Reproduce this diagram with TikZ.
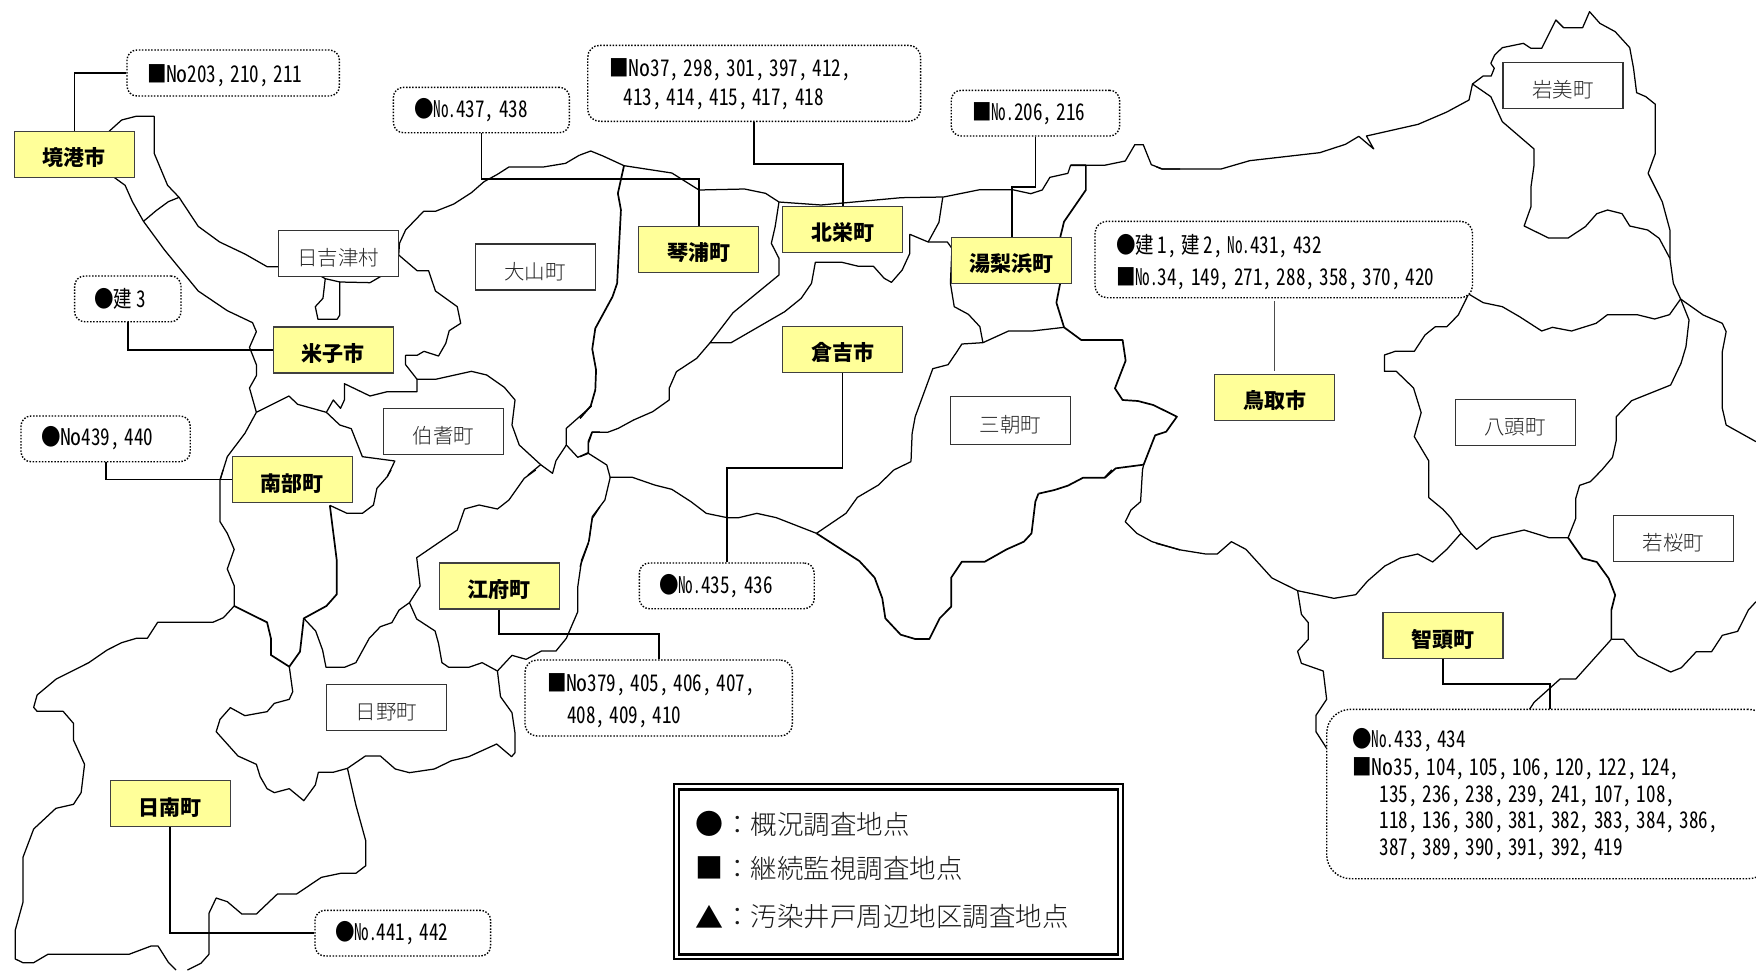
\documentclass[tikz,border=0pt]{standalone}
\usepackage{fontspec}
\setmainfont{Noto Sans CJK JP}
\newfontfamily\lightf{Noto Sans CJK JP Light}
\newfontfamily\numf[RawFeature=+hwid,FakeStretch=0.83]{Noto Sans CJK JP}
\newfontfamily\symf[FakeStretch=0.85]{Noto Sans CJK JP}
\newfontfamily\kenf[FakeStretch=0.8]{Noto Sans CJK JP}
\newfontfamily\nnf[RawFeature=+hwid,FakeStretch=0.95]{Noto Sans CJK JP}
\newfontfamily\ndf[RawFeature=+hwid,FakeStretch=0.66]{Noto Sans CJK JP}
\newcommand{\ci}{{\symf ●}\kern-0.5pt\relax}
\newcommand{\sq}{{\symf ■}\kern-0.5pt\relax}
\newcommand{\ken}{{\kenf 建}\hspace{4pt}}
\newcommand{\Nn}{{\nnf No}}
\newcommand{\Nd}{{\ndf No.}}
\newcommand{\lowstrut}[1]{\vrule width 0pt height 0pt depth #1pt\relax}
\newcommand{\topstrut}[1]{\vrule width 0pt height #1pt depth 0pt\relax}
\newcommand{\calloutbase}{32}
\newcommand{\callout}[8]{% name x1 y1 x2 y2 pad radius text
  \pgfmathsetmacro{\cx}{(#2+#4)/2}\pgfmathsetmacro{\cy}{(#3+#5)/2}
  \pgfmathsetmacro{\cw}{#4-#2-2*#6}\pgfmathsetmacro{\ch}{#5-#3}
  \node[callbox,rounded corners=#7pt,text width=\cw pt,inner xsep=#6pt,minimum height=\ch pt] (#1) at (\cx,\cy) {\spaceskip=4.7pt\relax\topstrut{20}#8\lowstrut{3}};}
\tikzset{
  mapline/.style={line width=1.25pt,black,line join=round},
  mapthick/.style={line width=1.7pt,black,line join=round},
  leader/.style={line width=1.8pt,black},
  town/.style={draw=black!75,fill=yellowbox,line width=1.1pt,minimum width=120pt,minimum height=46pt,inner sep=0pt,text height=23pt,text depth=0pt,font=\fontsize{21}{21}\selectfont\bfseries,text=black},
  ward/.style={draw=black!80,fill=white,line width=1.1pt,minimum width=120pt,minimum height=46pt,inner sep=0pt,text height=24pt,text depth=0pt,font=\lightf\fontsize{20.5}{21}\selectfont,text=black!85},
  callbox/.style={draw=black,fill=white,line width=1.4pt,dash pattern=on 1.5pt off 1.6pt,align=left,inner ysep=0pt,text=black,
    font=\numf\fontsize{23}{\calloutbase}\selectfont},
  c1/.style={shift={(0,0)},x=0.38265pt,y=-0.33333pt},
  c2/.style={shift={(580,0)},x=0.38265pt,y=-0.33333pt},
  c3/.style={shift={(1156,0)},x=0.38265pt,y=-0.33333pt},
  c4/.style={shift={(0,470)},x=0.38265pt,y=-0.33333pt},
  c5/.style={shift={(580,470)},x=0.38265pt,y=-0.33333pt},
  c6/.style={shift={(1156,470)},x=0.38265pt,y=-0.33333pt},
  legtext/.style={font=\lightf\fontsize{26.5}{27}\selectfont,text=black!90,anchor=west,inner sep=0pt},
  legsym/.style={font=\fontsize{28}{28}\selectfont,text=black,inner sep=0pt},
}
\definecolor{yellowbox}{RGB}{255,255,153}
\begin{document}
\begin{tikzpicture}[x=1pt,y=-1pt]
\path[use as bounding box] (0,0) rectangle (1756,970);
\clip (0,0) rectangle (1756,970);
\fill[white] (0,0) rectangle (1756,970);
% map, crop 1
\begin{scope}[c1]
\draw[mapline] (285,394)--(318,360)--(355,349)--(403,349)--(403,460)--(438,556)--(468,592)--(518,679)--(574,726)--(640,762)--(698,800)--(728,800);
\draw[mapline] (468,592)--(440,605)--(408,632)--(375,664);
\draw[mapline] (297,531)--(327,556)--(346,605)--(375,664)--(430,750)--(518,873)--(594,932)--(660,968)--(670,995)--(652,1042)--(670,1094)--(670,1127)--(652,1164)--(670,1237);
\draw[mapline] (838,828)--(850,836)--(844,895)--(824,920)--(831,958)--(881,958)--(888,945)--(888,846)--(967,848)--(997,828);
\draw[mapline] (850,836)--(888,846);
\draw[mapline] (1042,765)--(1090,812)--(1120,812)--(1138,873)--(1195,920)--(1204,970)--(1174,992)--(1165,1030)--(1146,1068)--(1108,1054)--(1090,1066)--(1060,1066)--(1060,1094)--(1090,1138)--(1090,1175)--(1012,1175)--(967,1188)--(900,1151)--(900,1200)--(890,1225)--(871,1200)--(853,1237);
\draw[mapline] (670,1237)--(755,1188)--(778,1213)--(853,1237)--(888,1275)--(918,1286)--(947,1370)--(1032,1383)--(1012,1430);
\draw[mapline] (1090,1138)--(1138,1138)--(1232,1114)--(1272,1125)--(1318,1162)--(1346,1200)--(1338,1275)--(1357,1335)--(1413,1394)--(1444,1420)--(1453,1382)--(1480,1335)--(1480,1285)--(1546,1218);
\draw[mapline] (1413,1394)--(1380,1425);
\draw[mapline] (1480,1335)--(1510,1372)--(1537,1358);
\draw[mapline] (1568,1296)--(1547,1296)--(1537,1325)--(1537,1358);
\draw[mapline] (1042,765)--(1044,730)--(1060,690)--(1107,634)--(1138,634)--(1186,612)--(1232,578)--(1265,545)--(1300,523)--(1330,501)--(1420,501)--(1478,490)--(1515,465);
\draw[mapline] (670,1237)--(640,1300)--(594,1370)--(575,1440);
\end{scope}
% map, crop 2
\begin{scope}[c2]
\draw[mapline] (0,465)--(28,453)--(60,468)--(115,497)--(240,519)--(311,570)--(430,567)--(485,580)--(520,606)--(630,615)--(840,593)--(950,591)--(1045,569)--(1130,569)--(1178,581)--(1208,570)--(1228,532)--(1275,520)--(1282,496)--(1370,496)--(1425,483)--(1450,434)--(1472,434)--(1493,494)--(1522,507)--(1568,507);
\draw[mapthick] (115,497)--(99,580)--(107,630)--(97,850)--(85,890)--(40,985)--(32,1047)--(42,1110)--(40,1170)--(28,1218)--(0,1255);
\draw[mapthick] (1282,496)--(1322,496)--(1322,570)--(1265,665)--(1255,712)--(1255,849)--(1245,908)--(1265,982)--(1310,1020)--(1418,1020)--(1426,1082)--(1398,1165)--(1418,1200)--(1458,1203)--(1498,1215)--(1560,1250)--(1532,1295)--(1503,1306)--(1473,1394)--(1400,1405)--(1372,1433)--(1315,1433)--(1275,1457)--(1240,1470)--(1198,1481);
\draw[mapline] (865,1385)--(820,1410);
\draw[mapline] (865,1385)--(868,1300)--(876,1250)--(922,1106)--(962,1094)--(985,1055)--(998,1032)--(1053,1028)--(1120,993)--(1182,993)--(1265,982);
\draw[mapline] (1053,1028)--(1045,980)--(1015,943)--(978,920)--(968,850)--(972,745)--(960,726)--(910,726)--(862,703)--(862,760)--(842,810)--(814,847)--(795,835)--(767,799)--(728,799)--(685,787)--(615,787)--(605,850)--(578,895)--(535,935)--(395,1028)--(340,1028);
\draw[mapline] (910,726)--(938,667)--(948,592);
\draw[mapline] (520,606)--(510,680)--(500,730)--(520,775)--(520,825)--(400,938)--(340,1028)--(305,1075)--(252,1115)--(233,1165)--(233,1200)--(190,1235)--(140,1260)--(100,1285)--(72,1297)--(32,1297)--(22,1330)--(22,1360)--(70,1395)--(79,1433);
\draw[mapline] (22,1360)--(0,1370);
\draw[mapline] (1473,1394)--(1470,1410);
\end{scope}
% map, crop 3
\begin{scope}[c3]
\draw[mapline] (0,500)--(15,507)--(170,507)--(245,482)--(428,458)--(495,433)--(530,409)--(569,447)--(550,408)--(685,373)--(760,336)--(818,300)--(827,252)--(855,228)--(876,228)--(884,205)--(875,190)--(885,165)--(905,143)--(960,130)--(980,145)--(1008,145)--(1045,60)--(1065,83)--(1115,83)--(1133,35)--(1160,70)--(1200,95)--(1238,143)--(1248,205)--(1256,278)--(1280,290)--(1305,313)--(1305,460)--(1286,520)--(1323,605)--(1343,690)--(1343,775)--(1352,850)--(1371,897)--(1393,960)--(1385,1040)--(1372,1090)--(1345,1155)--(1243,1202)--(1203,1250)--(1203,1320)--(1193,1372)--(1165,1410);
\draw[mapline] (827,252)--(875,290)--(905,365)--(988,447)--(988,495)--(980,560)--(980,620)--(962,678)--(1026,714)--(1077,714)--(1122,680)--(1152,641)--(1180,630)--(1218,641)--(1238,678)--(1285,690)--(1315,715)--(1343,775);
\draw[mapline] (817,882)--(855,908)--(905,920)--(950,950)--(1008,993)--(1036,982)--(1086,993)--(1150,970)--(1180,944)--(1257,944)--(1303,957)--(1342,944)--(1371,897);
\draw[mapline] (817,882)--(790,945)--(760,980)--(730,980)--(703,1005)--(675,1054)--(625,1054)--(597,1065)--(597,1114)--(628,1114)--(673,1164)--(693,1238)--(675,1310)--(713,1383)--(713,1410);
\draw[mapline] (1371,897)--(1430,945)--(1480,970)--(1490,995)--(1480,1055)--(1480,1225)--(1490,1275)--(1568,1325);
\end{scope}
% map, crop 4
\begin{scope}[c4]
\draw[mapline] (1022,0)--(1012,20)--(985,55)--(976,105)--(947,130)--(907,130)--(862,106);
\draw[mapthick] (862,106)--(880,270)--(880,373)--(853,408)--(794,445)--(784,545)--(756,590);
\draw[mapline] (794,445)--(825,483)--(843,540)--(852,592)--(900,592)--(930,578)--(965,505)--(994,470)--(1024,458)--(1043,420)--(1070,398)--(1098,348)--(1089,263)--(1195,180)--(1214,117)--(1252,105)--(1300,117)--(1330,90)--(1370,25)--(1400,0);
\draw[mapline] (1568,110)--(1548,145)--(1540,210)--(1520,270)--(1510,350)--(1510,425)--(1480,505)--(1453,543)--(1415,543)--(1375,568)--(1338,556)--(1300,603)--(1308,680)--(1338,728)--(1346,790)--(1346,848)--(1337,860)--(1298,822)--(1225,860)--(1180,872)--(1135,897)--(1070,908)--(1033,897)--(994,858)--(955,858)--(908,895)--(870,907)--(832,907)--(824,945)--(794,992)--(756,956)--(717,968)--(698,956)--(680,920)--(670,883)--(622,858)--(565,785)--(575,748)--(602,713)--(640,737)--(698,725)--(717,700)--(756,688)--(765,665)--(756,590);
\draw[mapline] (1070,398)--(1089,447)--(1137,483)--(1146,520)--(1155,578)--(1173,592)--(1225,592)--(1260,578)--(1300,603);
\draw[mapline] (583,0)--(575,30)--(575,155)--(594,190)--(612,238)--(594,297)--(612,347)--(612,408);
\draw[mapthick] (612,408)--(698,457)--(708,505)--(708,555)--(756,590);
\draw[mapline] (612,408)--(584,443)--(556,457)--(412,457)--(385,505)--(356,505)--(318,518)--(280,540)--(232,578)--(147,627)--(97,675)--(88,712)--(97,724)--(165,724)--(192,760)--(192,810)--(221,883)--(212,968)--(192,1003)--(146,1015)--(88,1077)--(60,1162)--(60,1297)--(40,1380)--(40,1467)--(60,1478)--(88,1478)--(125,1453)--(337,1453)--(395,1428)--(413,1428)--(440,1477)--(460,1500);
\draw[mapline] (490,1500)--(525,1480)--(546,1453)--(546,1330)--(565,1284)--(594,1295)--(632,1332)--(670,1332)--(725,1272)--(775,1272)--(840,1222)--(890,1210)--(930,1210)--(956,1187)--(956,1113)--(930,1005)--(908,895);
\end{scope}
% map, crop 5
\begin{scope}[c5]
\draw[mapthick] (1390,0)--(1372,22);
\draw[mapthick] (1198,71)--(1190,95)--(1180,190)--(1160,215)--(1115,238)--(1058,275)--(998,275)--(970,323)--(970,410)--(940,445)--(913,507)--(876,507)--(838,494)--(798,445)--(790,385)--(770,323)--(730,273)--(618,190);
\draw[mapline] (618,190)--(513,143)--(462,130)--(415,143)--(385,143)--(330,130)--(290,95)--(240,58)--(195,45)--(137,22)--(79,22)--(65,90)--(32,140)--(22,220)--(0,290);
\draw[mapline] (618,190)--(695,130)--(725,82)--(780,45)--(820,0);
\draw[mapline] (1470,0)--(1465,95)--(1440,120)--(1425,155)--(1455,190)--(1495,215)--(1568,240);
\end{scope}
% map, crop 6
\begin{scope}[c6]
\draw[mapline] (1568,395)--(1548,420)--(1520,484)--(1480,496)--(1452,545)--(1412,545)--(1373,593)--(1345,606)--(1260,558)--(1222,508)--(1190,508);
\draw[mapthick] (1190,508)--(1190,420)--(1200,375)--(1183,325)--(1152,276)--(1115,265)--(1077,203);
\draw[mapline] (1077,203)--(1097,145)--(1097,85)--(1107,46)--(1135,35)--(1165,0);
\draw[mapline] (1077,203)--(1027,203)--(962,180)--(877,203)--(838,238)--(797,190)--(770,143)--(750,118)--(713,83)--(713,0);
\draw[mapline] (797,190)--(760,238)--(723,276)--(684,252)--(638,264)--(598,288)--(553,333)--(522,374)--(465,385)--(370,362)--(303,324)--(235,238)--(197,215)--(160,252)--(130,252)--(65,240)--(0,220);
\draw[mapline] (370,362)--(380,433)--(398,458)--(398,508)--(370,544)--(380,580)--(437,603)--(446,688)--(418,736)--(418,785)--(446,835);
\draw[mapline] (1190,508)--(1097,627)--(1056,627)--(988,697)--(975,720);
\end{scope}
% callouts
\callout{ca}{127}{50}{339.4}{96}{20}{10}{\topstrut{24}\sq\Nn 203, 210, 211}
\callout{cb}{393.4}{87.3}{569.4}{132.7}{21}{10}{\ci\Nd 437, 438}
\callout{cc}{74.6}{276}{181}{321.7}{20}{10}{\ci\ken 3}
\callout{cd}{21}{416}{190.2}{461.7}{20}{10}{\ci\Nn 439, 440\lowstrut{6}}
\renewcommand{\calloutbase}{29}
\callout{ce}{587.7}{45.3}{920.6}{121.3}{22}{12}{\sq\Nn 37, 298, 301, 397, 412,\\\hspace*{14pt}413, 414, 415, 417, 418\lowstrut{4}}
\renewcommand{\calloutbase}{32}
\callout{cf}{951.2}{90.3}{1119.6}{136}{21}{10}{\sq\Nd 206, 216}
\callout{cg}{1095}{221.3}{1472.5}{297.7}{21}{12}{\topstrut{25}\ci\ken 1, \ken 2, \Nd 431, 432\\\sq\Nd 34, 149, 271, 288, 358, 370, 420}
\callout{ch}{639.3}{563}{814.2}{608.7}{20}{10}{\ci\Nd 435, 436}
\callout{ci}{525}{660}{792.4}{736}{22}{12}{\topstrut{24}\sq\Nn 379, 405, 406, 407,\\\hspace*{20pt}408, 409, 410}
\callout{cj}{315}{910.3}{490.6}{956}{20}{10}{\ci\Nd 441, 442}
\renewcommand{\calloutbase}{26.6}
\callout{ck}{1326.7}{709.3}{1772}{878.7}{26}{24}{\ci\Nd 433, 434\\[1.7pt]\sq\Nn 35, 104, 105, 106, 120, 122, 124,\\\hspace*{27pt}135, 236, 238, 239, 241, 107, 108,\\\hspace*{27pt}118, 136, 380, 381, 382, 383, 384, 386,\\\hspace*{27pt}387, 389, 390, 391, 392, 419\lowstrut{5.6}}
% yellow towns
\node[town] (sakai) at (74.4,154.2) {境港市};
\node[town] (yonago) at (333.3,350) {米子市};
\node[town] (nanbu) at (292.1,479.5) {南部町};
\node[town] (kotoura) at (698.8,249.2) {琴浦町};
\node[town] (hokuei) at (842.7,229.2) {北栄町};
\node[town] (yurihama) at (1011.9,260.2) {湯梨浜町};
\node[town] (kurayoshi) at (842.5,349.3) {倉吉市};
\node[town] (tottori) at (1274.8,397.2) {鳥取市};
\node[town] (kofu) at (499.2,586) {江府町};
\node[town] (chizu) at (1443,635.5) {智頭町};
\node[town] (nichinan) at (170.1,803.7) {日南町};
% white towns
\node[ward] (hiezu) at (338.3,253.2) {日吉津村};
\node[ward] (daisen) at (535.1,267) {大山町};
\node[ward] (hoki) at (443.5,431.7) {伯耆町};
\node[ward,minimum height=48pt] (misasa) at (1010.7,420.7) {三朝町};
\node[ward] (iwami) at (1563,85.2) {岩美町};
\node[ward] (yazu) at (1515.2,422.2) {八頭町};
\node[ward] (wakasa) at (1673.7,538.5) {若桜町};
\node[ward] (hino) at (386.5,707.7) {日野町};
% leaders
\coordinate (kb) at (600,179.3);
\coordinate (hb) at (800,163.7);
\coordinate (yb) at (1020,186.7);
\coordinate (kh) at (780,467.7);
\coordinate (ki) at (580,634);
\coordinate (kj) at (1549.8,683.7);
\draw[leader] (sakai.north) |- (ca.west);
\draw[leader] (cb.south) |- (kb) -| (kotoura.north);
\draw[leader] (ce.south) |- (hb) -| (hokuei.north);
\draw[leader] (cf.south) |- (yb) -| (yurihama.north);
\draw[leader] (cc.south) |- (yonago.west);
\draw[leader] (cd.south) |- (nanbu.west);
\draw[line width=0.9pt,black!70,shorten <=2.5pt,shorten >=2.5pt] (tottori.north) -- (tottori.north |- cg.south);
\draw[leader] (kurayoshi.south) |- (kh) -| (ch.north);
\draw[leader] (kofu.south) |- (ki) -| (ci.north);
\draw[leader] (chizu.south) |- (kj) -- (kj |- ck.north);
\draw[leader] (nichinan.south) |- (cj.west);
% legend
\node[draw=black,line width=1.8pt,fill=white,minimum width=449pt,minimum height=175pt,inner sep=0pt] (legend) at (898.4,871.7) {};
\node[draw=black,line width=2.8pt,minimum width=439pt,minimum height=165pt,inner sep=0pt] (legendin) at (legend.center) {};
\node[legsym] (s1) at (709.7,824.3) {●};
\node[legsym] (s2) at (709.7,868.3) {■};
\node[legsym] (s3) at (709.7,916.7) {▲};
\node[legtext] (t1) at (724,824.3) {：概況調査地点};
\node[legtext] (t2) at (724,868.3) {：継続監視調査地点};
\node[legtext] (t3) at (724,916.7) {：汚染井戸周辺地区調査地点};
\end{tikzpicture}
\end{document}
